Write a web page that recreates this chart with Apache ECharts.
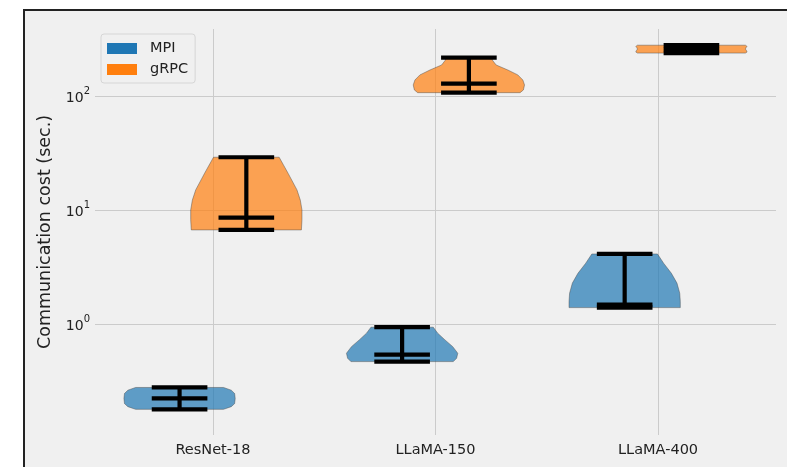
<!DOCTYPE html>
<html>
<head>
<meta charset="utf-8">
<script src="https://cdn.jsdelivr.net/npm/echarts@6/dist/echarts.min.js"></script>
<style>
  html, body { margin: 0; padding: 0; background: #fff; }
  #chart { width: 787px; height: 467px; }
</style>
</head>
<body>
<div id="chart"></div>
<script>
// categories and tick values
const models = ['ResNet-18', 'LLaMA-150', 'LLaMA-400'];
const yTicks = [1, 10, 100];

// summary lines per violin (sec.)
const mpiMin = [0.178, 0.467, 1.39];
const mpiMedian = [0.222, 0.538, 1.48];
const mpiMax = [0.277, 0.936, 4.11];

const grpcMin = [6.68, 106.9, 238];
const grpcMedian = [8.56, 128.2, 258];
const grpcMax = [29.0, 216.8, 279];

// violin outlines, top -> bottom: value and relative width (1 = widest)
const mpiShapeValues = [
    [0.277, 0.262, 0.245, 0.222, 0.2, 0.188, 0.178],
    [0.936, 0.829, 0.724, 0.632, 0.553, 0.5, 0.467],
    [4.11, 3.41, 2.78, 2.28, 1.86, 1.57, 1.39]
];
const mpiShapeWidths = [
    [0.79, 0.93, 0.99, 1.0, 0.99, 0.93, 0.79],
    [0.56, 0.64, 0.77, 0.91, 1.0, 0.98, 0.92],
    [0.59, 0.70, 0.84, 0.94, 0.99, 1.0, 1.0]
];
const grpcShapeValues = [
    [29.0, 21.0, 15.0, 12.2, 10.0, 8.2, 6.68],
    [216.8, 207, 187, 169, 153, 138, 125, 113, 106.9],
    [279, 272, 265, 258, 250, 243, 238]
];
const grpcShapeWidths = [
    [0.59, 0.75, 0.91, 0.97, 1.0, 1.0, 0.99],
    [0.42, 0.42, 0.49, 0.70, 0.88, 0.97, 1.0, 0.98, 0.92],
    [0.97, 1.0, 0.98, 0.97, 0.99, 1.0, 0.97]
];

const violinWidth = 0.5;   // like matplotlib widths=0.5
const offsetMPI = -0.15;
const offsetGRPC = 0.15;

function buildData(mins, meds, maxs, offset) {
    return models.map(function (m, i) {
        return [i + 1 + offset, mins[i], meds[i], maxs[i]];
    });
}

function violinItem(shapeValues, shapeWidths, fill) {
    return function (params, api) {
        const i = params.dataIndex;
        const x = api.value(0);
        const vMin = api.value(1), vMed = api.value(2), vMax = api.value(3);
        const half = violinWidth / 2;
        const vals = shapeValues[i], ws = shapeWidths[i];
        const pts = [];
        for (let k = 0; k < vals.length; k++) {
            pts.push(api.coord([x + ws[k] * half, vals[k]]));
        }
        for (let k = vals.length - 1; k >= 0; k--) {
            pts.push(api.coord([x - ws[k] * half, vals[k]]));
        }
        const barStyle = { stroke: '#000', lineWidth: 4.2 };
        const bar = function (v) {
            const a = api.coord([x - violinWidth / 4, v]);
            const b = api.coord([x + violinWidth / 4, v]);
            return { type: 'line', shape: { x1: a[0], y1: a[1], x2: b[0], y2: b[1] }, style: barStyle };
        };
        const top = api.coord([x, vMax]);
        const bottom = api.coord([x, vMin]);
        return {
            type: 'group',
            children: [
                {
                    type: 'polygon',
                    shape: { points: pts },
                    style: { fill: fill, stroke: 'rgba(70,70,70,0.55)', lineWidth: 0.8 }
                },
                { type: 'line', shape: { x1: top[0], y1: top[1], x2: bottom[0], y2: bottom[1] }, style: barStyle },
                bar(vMax),
                bar(vMin),
                bar(vMed)
            ]
        };
    };
}

function supLabel(v) {
    const e = Math.round(Math.log10(v));
    return '{b|10}{s|' + e + '}';
}

const chart = echarts.init(document.getElementById('chart'));
chart.setOption({
    backgroundColor: '#ffffff',
    animation: false,
    textStyle: { fontFamily: 'DejaVu Sans' },
    graphic: [{
        type: 'rect',
        z: -10,
        shape: { x: 24, y: 10, width: 800, height: 500 },
        style: { fill: '#f0f0f0', stroke: '#222', lineWidth: 2 }
    }],
    grid: { left: 95, right: 11, top: 29, bottom: 32 },
    legend: {
        orient: 'vertical',
        left: 101,
        top: 34,
        padding: [7, 7, 6, 6],
        itemWidth: 30,
        itemHeight: 11,
        itemGap: 6,
        icon: 'rect',
        backgroundColor: '#f0f0f0',
        borderColor: '#d6d6d6',
        borderWidth: 1,
        borderRadius: 3,
        textStyle: { fontSize: 14.5, color: '#222', padding: [0, 0, 0, 8] },
        data: ['MPI', 'gRPC']
    },
    xAxis: {
        type: 'value',
        min: 0.47,
        max: 3.53,
        axisLine: { show: false },
        axisTick: { show: false, customValues: [1, 2, 3] },
        axisLabel: {
            customValues: [1, 2, 3],
            formatter: function (v) { return models[Math.round(v) - 1]; },
            color: '#222',
            fontSize: 14.5,
            margin: 8
        },
        splitLine: { show: true, lineStyle: { color: '#cbcbcb', width: 1 } }
    },
    yAxis: {
        type: 'log',
        logBase: 10,
        min: 0.106,
        max: 387,
        name: 'Communication cost (sec.)',
        nameLocation: 'middle',
        nameGap: 34,
        nameTextStyle: { fontSize: 17.5, color: '#222' },
        axisLine: { show: false },
        axisTick: { show: false, customValues: yTicks },
        axisLabel: {
            customValues: yTicks,
            formatter: supLabel,
            margin: 5,
            rich: {
                b: { fontSize: 14, color: '#222', lineHeight: 19, verticalAlign: 'bottom' },
                s: { fontSize: 10, color: '#222', lineHeight: 19, verticalAlign: 'top' }
            }
        },
        splitLine: { show: true, lineStyle: { color: '#cbcbcb', width: 1 } }
    },
    series: [
        {
            name: 'MPI',
            type: 'custom',
            itemStyle: { color: '#1f77b4' },
            renderItem: violinItem(mpiShapeValues, mpiShapeWidths, 'rgba(31,119,180,0.7)'),
            encode: { x: 0, y: [1, 2, 3] },
            data: buildData(mpiMin, mpiMedian, mpiMax, offsetMPI)
        },
        {
            name: 'gRPC',
            type: 'custom',
            itemStyle: { color: '#ff7f0e' },
            renderItem: violinItem(grpcShapeValues, grpcShapeWidths, 'rgba(255,127,14,0.7)'),
            encode: { x: 0, y: [1, 2, 3] },
            data: buildData(grpcMin, grpcMedian, grpcMax, offsetGRPC)
        }
    ]
});
</script>
</body>
</html>
